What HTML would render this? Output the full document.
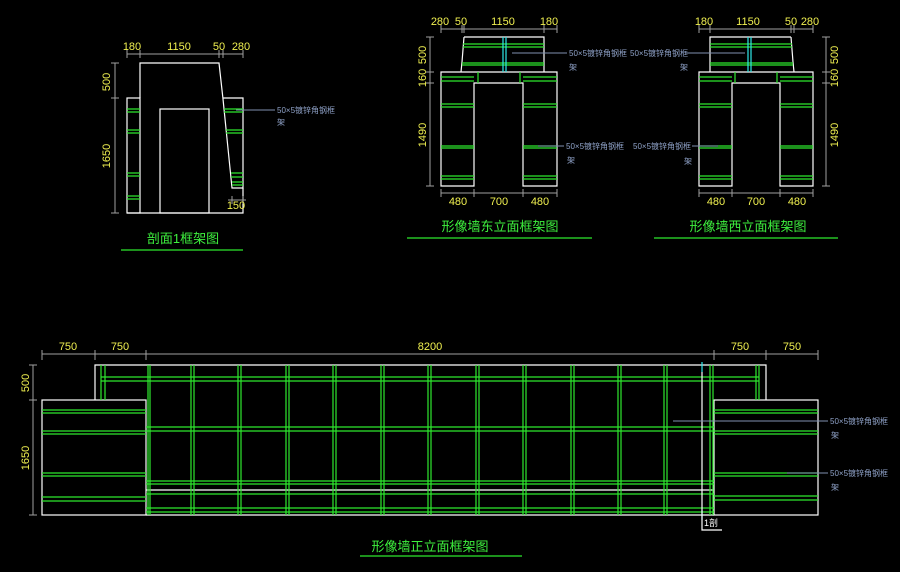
<!DOCTYPE html>
<html><head><meta charset="utf-8"><style>
html,body{margin:0;padding:0;background:#000;}
svg{display:block}
.w{stroke:#fff;fill:none;stroke-width:1.2}
.g{stroke:#2ee82e;stroke-width:1.2;fill:none}
.c{stroke:#2ee8e8;stroke-width:1.2}
.d{stroke:#a0a0a0;stroke-width:1;fill:none}
.l{stroke:#7f90b0;stroke-width:1}
.y{fill:#f0f050;font-family:"Liberation Sans Narrow","Liberation Sans",sans-serif;font-size:11px;text-anchor:middle}
.b{fill:#8fa2c8;font-family:"Liberation Sans","Noto Sans CJK SC",sans-serif;font-size:8px}
.t{fill:#3ef03e;font-family:"Liberation Sans","Noto Sans CJK SC",sans-serif;font-size:13px;text-anchor:middle}
</style></head><body>
<svg width="900" height="572" viewBox="0 0 900 572" xmlns="http://www.w3.org/2000/svg">
<rect width="900" height="572" fill="#000"/>

<!-- ===== Section 1 ===== -->
<g>
<path class="w" d="M140,98 V63 H219 L223,99 L232,188 H243 V98 H223"/>
<rect class="w" x="127" y="98" width="13" height="115"/>
<path class="w" d="M127,213 H243 V188"/>
<rect class="w" x="160" y="109" width="49" height="104"/>
<path class="g" d="M127,109H140M127,112H140M127,130H140M127,133H140M127,173H140M127,176H140M127,196H140M127,199H140"/>
<path class="g" d="M224,109H243M224,112H243M226,130H243M226,133H243M231,173H243M231,177H243M232,182H243M232,185H243"/>
<path class="d" d="M127,54H243M127,50V58M140,50V58M219,50V58M223,50V58M243,50V58"/>
<text class="y" x="132" y="50">180</text><text class="y" x="179" y="50">1150</text><text class="y" x="219" y="50">50</text><text class="y" x="241" y="50">280</text>
<path class="d" d="M115,63V213M111,63H119M111,98H119M111,213H119"/>
<text class="y" transform="translate(110,82) rotate(-90)">500</text>
<text class="y" transform="translate(110,156) rotate(-90)">1650</text>
<path class="d" d="M228,200H246M232,196V204M243,196V204"/>
<text class="y" x="236" y="209">150</text>
<path class="l" d="M236,110H275"/>
<text class="b" x="277" y="113">50×5镀锌角钢框</text><text class="b" x="277" y="125">架</text>
<text class="t" x="183" y="243">剖面1框架图</text>
<path class="g" d="M121,250H243"/>
</g>

<!-- ===== East ===== -->
<g>
<path class="w" d="M464,37H544V72M464,37L462,62L461,72"/>
<path class="w" d="M441,72H557V186H523V83H474V186H441Z"/>
<path class="g" d="M463,44H544M463,47H544M462,63H544M462,65H544"/>
<path class="c" d="M503,37V72M506,37V72"/>
<path class="g" d="M441,77H474M441,81H474M523,77H557M523,81H557M441,104H474M441,107H474M523,104H557M523,107H557M441,146H474M441,148H474M523,146H557M523,148H557M441,176H474M441,179H474M523,176H557M523,179H557M478,72V83M520,72V83"/>
<path class="d" d="M441,29H557M441,25V33M462,25V33M464,25V33M544,25V33M557,25V33"/>
<text class="y" x="440" y="25">280</text><text class="y" x="461" y="25">50</text><text class="y" x="503" y="25">1150</text><text class="y" x="549" y="25">180</text>
<path class="d" d="M430,37V186M426,37H434M426,72H434M426,83H434M426,186H434"/>
<text class="y" transform="translate(426,55) rotate(-90)">500</text>
<text class="y" transform="translate(426,78) rotate(-90)">160</text>
<text class="y" transform="translate(426,135) rotate(-90)">1490</text>
<path class="d" d="M441,193H557M441,189V197M474,189V197M523,189V197M557,189V197"/>
<text class="y" x="458" y="205">480</text><text class="y" x="499" y="205">700</text><text class="y" x="540" y="205">480</text>
<path class="l" d="M512,53H567M538,146H564"/>
<text class="b" x="569" y="56">50×5镀锌角钢框</text><text class="b" x="569" y="70">架</text>
<text class="b" x="566" y="149">50×5镀锌角钢框</text><text class="b" x="567" y="163">架</text>
<text class="t" x="500" y="231">形像墙东立面框架图</text>
<path class="g" d="M407,238H592"/>
</g>

<!-- ===== West ===== -->
<g>
<path class="w" d="M791,37H710V72M791,37L793,62L794,72"/>
<path class="w" d="M699,72H813V186H780V83H732V186H699Z"/>
<path class="g" d="M710,44H792M710,47H792M710,63H793M710,65H793"/>
<path class="c" d="M748,37V72M751,37V72"/>
<path class="g" d="M699,77H732M699,81H732M780,77H813M780,81H813M699,104H732M699,107H732M780,104H813M780,107H813M699,146H732M699,148H732M780,146H813M780,148H813M699,176H732M699,179H732M780,176H813M780,179H813M735,72V83M777,72V83"/>
<path class="d" d="M699,29H813M699,25V33M710,25V33M791,25V33M794,25V33M813,25V33"/>
<text class="y" x="704" y="25">180</text><text class="y" x="748" y="25">1150</text><text class="y" x="791" y="25">50</text><text class="y" x="810" y="25">280</text>
<path class="d" d="M826,37V186M822,37H830M822,72H830M822,83H830M822,186H830"/>
<text class="y" transform="translate(838,55) rotate(-90)">500</text>
<text class="y" transform="translate(838,78) rotate(-90)">160</text>
<text class="y" transform="translate(838,135) rotate(-90)">1490</text>
<path class="d" d="M699,193H813M699,189V197M732,189V197M780,189V197M813,189V197"/>
<text class="y" x="716" y="205">480</text><text class="y" x="756" y="205">700</text><text class="y" x="797" y="205">480</text>
<path class="l" d="M686,53H745M692,146H718"/>
<text class="b" x="630" y="56">50×5镀锌角钢框</text><text class="b" x="680" y="70">架</text>
<text class="b" x="633" y="149">50×5镀锌角钢框</text><text class="b" x="684" y="164">架</text>
<text class="t" x="748" y="231">形像墙西立面框架图</text>
<path class="g" d="M654,238H838"/>
</g>

<!-- ===== Main elevation ===== -->
<g>
<path class="w" d="M95,400V365H766V400"/>
<rect class="w" x="42" y="400" width="104" height="115"/>
<rect class="w" x="714" y="400" width="104" height="115"/>
<path class="w" d="M146,515H714M146,490H714"/>
<!-- horizontal green -->
<path class="g" d="M101,377H759M101,381H759M146,427H714M146,431H714M146,481H714M146,484H714M146,494H714M146,508H714M146,512H714"/>
<path class="g" d="M42,410H146M42,413H146M42,431H146M42,434H146M42,473H146M42,476H146M42,497H146M42,501H146"/>
<path class="g" d="M714,410H818M714,413H818M714,431H818M714,434H818M714,473H818M714,476H818M714,496H818M714,500H818"/>
<!-- vertical green -->
<path class="g" d="M101,365V400M105,365V400M756,365V400M759,365V400
M148,365V515M150,365V515M191,365V515M194,365V515M238,365V515M241,365V515M286,365V515M289,365V515
M333,365V515M336,365V515M381,365V515M384,365V515M428,365V515M431,365V515M476,365V515M479,365V515
M523,365V515M526,365V515M571,365V515M574,365V515M618,365V515M621,365V515M664,365V515M667,365V515
M710,365V515M713,365V515"/>
<path class="c" d="M702,362V372M702,510V520"/>
<path class="w" d="M702,372V530H722"/>
<text x="704" y="526" fill="#fff" font-family="Liberation Sans,Noto Sans CJK SC,sans-serif" font-size="9">1剖</text>
<path class="d" d="M42,354H818M42,350V360M95,350V360M146,350V360M714,350V360M766,350V360M818,350V360"/>
<text class="y" x="68" y="350">750</text><text class="y" x="120" y="350">750</text><text class="y" x="430" y="350">8200</text><text class="y" x="740" y="350">750</text><text class="y" x="792" y="350">750</text>
<path class="d" d="M33,365V515M29,365H37M29,400H37M29,515H37"/>
<text class="y" transform="translate(29,383) rotate(-90)">500</text>
<text class="y" transform="translate(29,458) rotate(-90)">1650</text>
<path class="l" d="M673,421H828M787,473H828"/>
<text class="b" x="830" y="424">50×5镀锌角钢框</text><text class="b" x="831" y="438">架</text>
<text class="b" x="830" y="476">50×5镀锌角钢框</text><text class="b" x="831" y="490">架</text>
<text class="t" x="430" y="551">形像墙正立面框架图</text>
<path class="g" d="M360,556H522"/>
</g>
</svg>
</body></html>
